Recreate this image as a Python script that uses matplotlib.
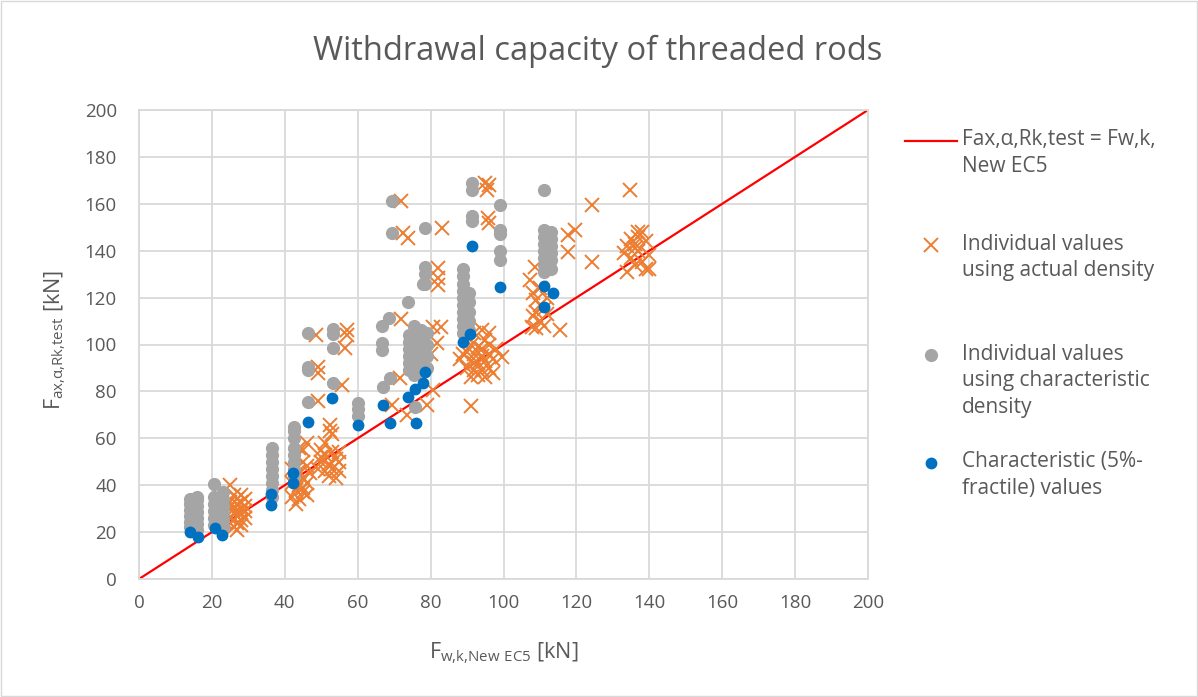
import matplotlib
matplotlib.use("Agg")
import matplotlib.pyplot as plt
from matplotlib.patches import Rectangle
from matplotlib.legend import Legend

# -----------------------------
# Datos
# -----------------------------
# Individual values using actual density (x markers)
act_x = [25, 26, 27, 28, 25, 26, 27, 28, 29, 24, 25, 26, 27, 28, 29, 26, 27, 28, 25, 29,
         27, 26, 24, 28, 29, 24, 27, 28,
         44, 43, 45, 42, 44, 46, 43, 45, 42, 44, 46, 43, 45, 42, 44, 46, 43, 45, 47, 45, 46,
         52.4, 52.4, 53, 50, 51, 53, 54, 50, 52, 55, 49, 51, 53, 55, 52, 54, 50, 55, 51,
         48.5, 57, 57, 56.5, 49, 49, 55.7, 49,
         72, 72.5, 73.8, 83, 82, 82, 82, 72, 80.7, 82.8, 81.7, 71.6, 80.7, 79, 73.5, 69.4,
         76, 77, 78, 75, 76, 80,
         90, 92, 94, 95, 91, 93, 96, 90, 92, 94, 96, 91, 93, 95, 97, 90, 92, 94, 96, 93, 95,
         91, 94, 92, 98, 88, 89, 97, 96, 95, 96, 95.5, 95.8, 96, 99.6, 91,
         107.3, 108.6, 108, 109, 110, 111, 112, 108, 110, 109, 111, 107.8, 115.5, 112, 110, 109,
         119.6, 117.7, 117.7, 124.3, 124.3,
         134.7, 134, 135, 136, 137, 138, 135, 139, 140, 136, 133, 138, 137, 136, 139, 134, 137, 140]
act_y = [40, 36, 34, 33, 31, 30, 29, 28, 31, 28, 26, 25, 24, 23, 26, 22, 21, 30, 33, 34,
         27, 28, 24, 25, 29, 32, 32, 36,
         56, 52, 50, 47, 46, 48, 44, 43, 41, 40, 41, 38, 37, 35, 34, 36, 32, 39, 45, 55, 58,
         65.5, 63, 62, 55, 53, 54, 51, 50, 49, 50, 47, 46, 47, 46, 44, 43, 52, 54, 58,
         104, 106, 104, 98.5, 90.5, 88, 82.7, 75.8,
         161, 147.5, 145.5, 149.5, 132.5, 128.5, 125.5, 111, 107.5, 107.5, 100.6, 85.7, 80.6, 74, 70, 74,
         96, 92, 99, 100, 104, 96,
         103, 105, 106, 102, 100, 99, 100, 97, 96, 95, 96, 93, 92, 93, 94, 90, 89, 89, 90, 87, 86,
         86, 98, 92, 98, 94, 96, 88, 105, 169, 168, 166, 154, 152, 94.7, 73.8,
         127.5, 133, 122, 119, 117, 115, 113, 112, 110, 107, 108, 107.5, 106, 120, 124, 114,
         149, 146.7, 139.5, 159.5, 135,
         166, 131, 137, 141, 146, 148, 145, 132, 138, 143, 139, 135, 140, 134, 144, 142, 148, 132]

# Individual values using characteristic density (grey circles)
char_x = [14, 14, 14, 14, 14, 14, 16, 16, 16, 16, 16, 16, 16,
          20.5, 20.5, 20.5, 20.5, 20.5, 20.5, 23, 23, 23, 23, 23, 23,
          36.5, 36.5, 36.5, 36.5, 36.5, 36.5, 36.5, 36.5,
          42.5, 42.5, 42.5, 42.5, 42.5, 42.5, 42.5, 42.5,
          46.3, 46.3, 46.5, 46.3,
          53.2, 53.2, 53.2, 53.2,
          60.2, 60.2, 60.2,
          66.7, 66.7, 66.7, 67, 68.9,
          69.4, 69.4, 68.5, 73.8, 78,
          74, 74, 74, 74, 74, 74, 75.5, 75.5, 75.5, 75.5, 75.5, 75.5, 75.5, 75.5,
          77.5, 77.5, 77.5, 77.5, 77.5, 77.5, 77.5, 79, 79, 79, 79, 75.7,
          78.5, 78.5, 78.5, 78.5,
          89, 89, 89, 89, 89, 89, 89, 89, 89, 89, 90.5, 90.5, 90.5, 90.5, 90.5,
          91.4, 91.4, 91.4, 91.4,
          99, 99, 99, 99, 99,
          111, 111, 111, 111, 111, 111, 111, 111, 113, 113, 113, 113, 113, 113]
char_y = [22, 24.5, 27, 29.5, 32, 34, 21, 23.5, 26, 28.5, 31, 33.5, 35,
          23, 26, 29, 32, 35, 40.5, 22, 25, 28, 31, 34, 37,
          35, 38, 41, 44, 47, 50, 53, 56,
          44, 47, 50, 53, 56, 60, 63, 65,
          105, 90.5, 89, 75.5,
          106.5, 104.5, 98.7, 83.6,
          75.2, 72.5, 69.5,
          108, 100.5, 97.5, 82, 85.8,
          161.3, 147.5, 111.5, 118, 126,
          89, 92, 95, 98, 101, 104, 87, 90, 93, 96, 99, 102, 105, 108,
          88, 91, 94, 97, 100, 103, 106, 90, 95, 100, 105, 73.3,
          149.7, 133, 130, 126,
          105, 108, 111, 114, 117, 120, 123, 126, 129, 132, 106, 110, 114, 118, 122,
          169, 165.7, 154.6, 152.5,
          159.5, 149, 147, 140, 136,
          166, 149, 146, 143, 140, 137, 134, 131, 148, 145, 142, 139, 136, 132]

# Characteristic (5%-fractile) values (blue circles)
fract_x = [14, 16.2, 20.8, 22.8, 36.3, 36.3, 42.3, 42.3, 46.4, 53, 60.2, 67, 68.9,
           73.8, 75.7, 76, 78, 78.5, 91.4, 89, 90.8, 99, 111, 113.6, 111]
fract_y = [20, 18, 21.7, 18.8, 36.3, 31.5, 45, 41, 66.8, 77, 65.5, 74, 66.5,
           77.5, 81, 66.5, 83.5, 88.3, 142, 101, 104.5, 124.5, 125, 122, 116]

# Linea Fax = Fw,k
line_x = [0, 200]
line_y = [0, 200]

ticks = list(range(0, 201, 20))

# -----------------------------
# Figura
# -----------------------------
plt.rcParams['font.family'] = ['Open Sans', 'DejaVu Sans']
txt = '#595959'
grid_c = '#D9D9D9'

fig = plt.figure(figsize=(11.98, 6.97), dpi=100)
ax = fig.add_axes([139 / 1198, 1 - 579 / 697, (868 - 139) / 1198, (579 - 110) / 697])

h_line, = ax.plot(line_x, line_y, color='#FF0000', lw=1.6, zorder=2)
h_act, = ax.plot(act_x, act_y, ls='none', marker='x', ms=9.5, mew=1.4, color='#ED7D31', zorder=3)
h_char, = ax.plot(char_x, char_y, ls='none', marker='o', ms=9.5, color='#A5A5A5', mec='none', zorder=4)
h_fract, = ax.plot(fract_x, fract_y, ls='none', marker='o', ms=8.5, color='#0070C0', mec='none', zorder=5)

ax.set_xlim(0, 200)
ax.set_ylim(0, 200)
ax.set_xticks(ticks)
ax.set_yticks(ticks)
ax.grid(True, color=grid_c, lw=1.3, zorder=0)
ax.set_axisbelow(True)
for s in ax.spines.values():
    s.set_color(grid_c)
    s.set_linewidth(1.3)
ax.tick_params(length=0, labelsize=13.5, labelcolor=txt)
ax.tick_params(axis='y', pad=16)
ax.tick_params(axis='x', pad=11)

ax.set_xlabel(r'$\mathregular{F_{w{,}k{,}New\ EC5}}$ [kN]', fontsize=15.5, color=txt, labelpad=20)
ax.set_ylabel(r'$\mathregular{F_{ax{,}α{,}Rk{,}test}}$ [kN]', fontsize=15.5, color=txt)
ax.yaxis.set_label_coords(-0.097, 0.51)

fig.text(0.4985, 0.926, 'Withdrawal capacity of threaded rods', ha='center', va='center',
         fontsize=23.5, color=txt)

# -----------------------------
# Leyenda (una por entrada, alineada a la primera linea)
# -----------------------------
entries = [
    (h_line, '\nFax,α,Rk,test = Fw,k,\nNew EC5', 140),
    (h_act, '\nIndividual values\nusing actual density', 244),
    (h_char, '\n\nIndividual values\nusing characteristic\ndensity', 354),
    (h_fract, '\nCharacteristic (5%-\nfractile) values', 462),
]
for h, lab, ypx in entries:
    leg = Legend(ax, [h], [lab], loc='center left',
                 bbox_to_anchor=(905 / 1198, 1 - ypx / 697), bbox_transform=fig.transFigure,
                 frameon=False, borderpad=0, borderaxespad=0, fontsize=15,
                 handlelength=2.5, handletextpad=0.25, labelcolor=txt)
    for t in leg.get_texts():
        t.set_linespacing(1.35)
    ax.add_artist(leg)

# borde exterior
fig.patches.append(Rectangle((0.001, 0.001), 0.998, 0.997, transform=fig.transFigure,
                             fill=False, edgecolor=grid_c, lw=1))

fig.savefig('out.png', dpi=100)
